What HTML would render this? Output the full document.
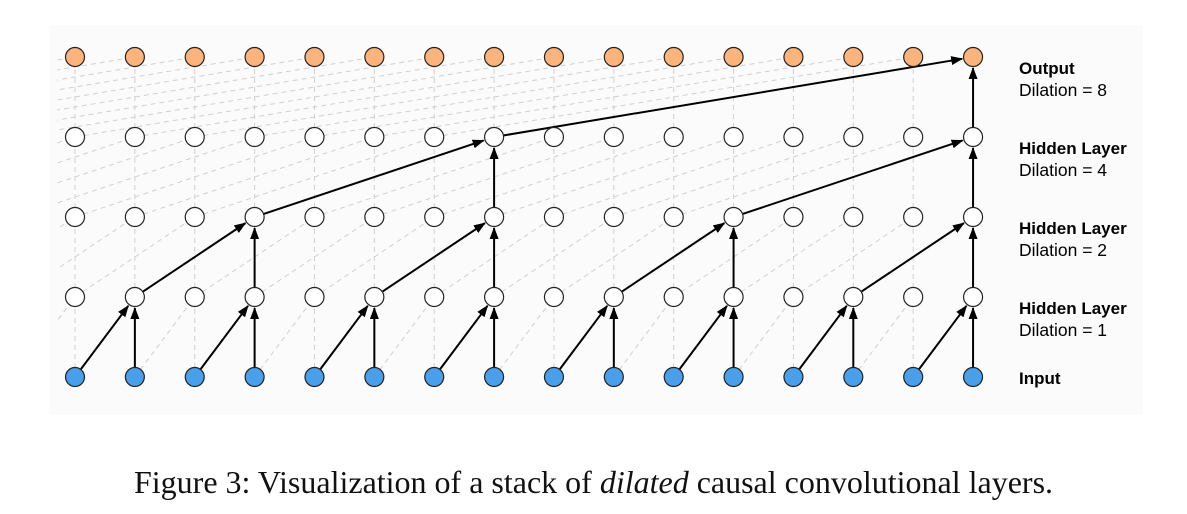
<!DOCTYPE html>
<html><head><meta charset="utf-8"><style>
html,body{margin:0;padding:0;background:#fff;}
body{width:1187px;height:514px;position:relative;overflow:hidden;}
.cap{position:absolute;left:0;width:1187px;top:464px;text-align:center;font-family:"Liberation Serif",serif;font-size:32px;color:#111;white-space:nowrap;}
</style></head><body>
<svg id="s" width="1187" height="514" style="position:absolute;left:0;top:0">
<defs>
<marker id="a" markerWidth="12" markerHeight="9" refX="11" refY="4.5" orient="auto" markerUnits="userSpaceOnUse"><path d="M0,0 L12,4.5 L0,9 z" fill="#000"/></marker>
<clipPath id="c"><rect x="57" y="27" width="1086" height="380"/></clipPath>
</defs>
<rect x="50" y="25" width="1093" height="390" fill="#fbfbfb"/>
<g id="g" clip-path="url(#c)" stroke="#d0d0d0" stroke-width="1" stroke-dasharray="5,4" fill="none"></g>
<g id="b" stroke="#000" stroke-width="2" fill="none"></g>
<g id="n"></g>
<g font-family="Liberation Sans, sans-serif" font-size="17.5" fill="#000">
<text x="1019" y="74" font-weight="bold" font-size="17">Output</text><text x="1019" y="96">Dilation = 8</text>
<text x="1019" y="154" font-weight="bold" font-size="17">Hidden Layer</text><text x="1019" y="176">Dilation = 4</text>
<text x="1019" y="234" font-weight="bold" font-size="17">Hidden Layer</text><text x="1019" y="256">Dilation = 2</text>
<text x="1019" y="314" font-weight="bold" font-size="17">Hidden Layer</text><text x="1019" y="336">Dilation = 1</text>
<text x="1019" y="384" font-weight="bold" font-size="17">Input</text>
</g>
</svg>
<div class="cap">Figure 3: Visualization of a stack of <i>dilated</i> causal convolutional layers.</div>
<script>
var NS="http://www.w3.org/2000/svg";
function X(i){return 75+i*59.87;}
var Y=[377,297,217,137,57];
function el(p,t,a){var e=document.createElementNS(NS,t);for(var k in a)e.setAttribute(k,a[k]);document.getElementById(p).appendChild(e);return e;}
var D=[1,2,4,8];
for(var l=0;l<4;l++){var d=D[l];
 for(var i=0;i<16;i++){
  el("g","line",{x1:X(i),y1:Y[l],x2:X(i),y2:Y[l+1]});
  el("g","line",{x1:X(i-d),y1:Y[l],x2:X(i),y2:Y[l+1]});
 }}
function arrow(i0,l0,i1,l1){var x0=X(i0),y0=Y[l0],x1=X(i1),y1=Y[l1];var dx=x1-x0,dy=y1-y0,L=Math.sqrt(dx*dx+dy*dy);
 el("b","line",{x1:x0+dx/L*10,y1:y0+dy/L*10,x2:x1-dx/L*11,y2:y1-dy/L*11,"marker-end":"url(#a)"});}
var T=[[1,3,5,7,9,11,13,15],[3,7,11,15],[7,15],[15]];
for(var l=0;l<4;l++){T[l].forEach(function(i){arrow(i-D[l],l,i,l+1);arrow(i,l,i,l+1);});}
for(var l=0;l<5;l++)for(var i=0;i<16;i++){
 var f=l==0?"#4a9fea":(l==4?"#fdb47c":"#fff");
 el("n","circle",{cx:X(i),cy:Y[l],r:9.5,fill:f,stroke:"#222","stroke-width":1.2});}
</script>
</body></html>
